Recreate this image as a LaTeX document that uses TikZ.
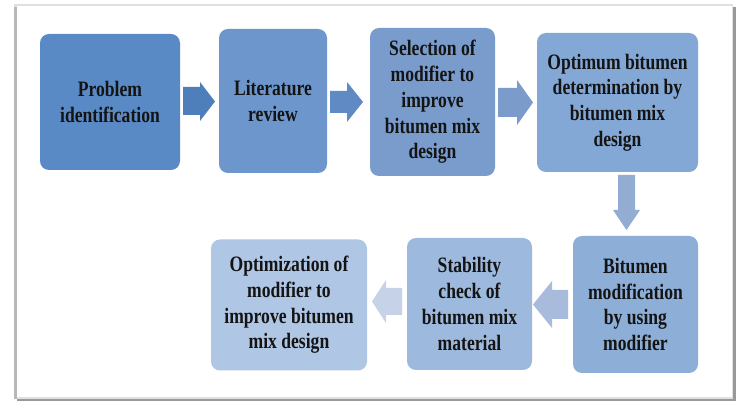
\documentclass[tikz,border=0pt]{standalone}
\usepackage{fontspec}
\setmainfont{Liberation Serif}[FakeStretch=0.8]
\definecolor{c1}{HTML}{5A8AC6}
\definecolor{c2}{HTML}{6D97CC}
\definecolor{c3}{HTML}{7A9CCD}
\definecolor{c4}{HTML}{84A8D5}
\definecolor{c5}{HTML}{8DAED7}
\definecolor{c6}{HTML}{9DB9DD}
\definecolor{c7}{HTML}{AFC6E4}
\definecolor{a1}{HTML}{4F7FBA}
\definecolor{a2}{HTML}{5F8AC4}
\definecolor{a3}{HTML}{7B9BCB}
\definecolor{a4}{HTML}{93ACD2}
\definecolor{a5}{HTML}{A9BBDC}
\definecolor{a6}{HTML}{C5D2E8}
\definecolor{txt}{HTML}{141414}
\begin{document}
\begin{tikzpicture}[x=1pt,y=-1pt,
  stepbox/.style={rounded corners=9pt, align=center, inner sep=0pt,
    font=\fontsize{22}{25.7}\selectfont\bfseries, text=txt}]
\useasboundingbox (0,0) rectangle (740,403);
% frame with shadow
\fill[black!40] (17,7) rectangle (736,401);
\fill[black!12] (14,4) rectangle (733,399);
\fill[black!28] (14,7) rectangle (16.5,399);
\fill[white] (16.5,6) rectangle (731.5,397.5);
% boxes
\node[stepbox, fill=c1, minimum width=140pt, minimum height=136pt] (p1) at (110,102) {Problem\\identification};
\node[stepbox, fill=c2, minimum width=108pt, minimum height=144pt] (p2) at (273,101) {Literature\\review};
\node[stepbox, fill=c3, minimum width=125pt, minimum height=148pt] (p3) at (432.5,102) {Selection of\\modifier to\\improve\\bitumen mix\\design};
\node[stepbox, fill=c4, minimum width=161pt, minimum height=139pt] (p4) at (617.5,102.5) {Optimum bitumen\\determination by\\bitumen mix\\design};
\node[stepbox, fill=c5, minimum width=125pt, minimum height=137pt] (p5) at (635.5,304.5) {Bitumen\\modification\\by using\\modifier};
\node[stepbox, fill=c6, minimum width=125pt, minimum height=132pt] (p6) at (469.5,304) {Stability\\check of\\bitumen mix\\material};
\node[stepbox, fill=c7, minimum width=156pt, minimum height=131pt] (p7) at (289,305) {Optimization of\\modifier to\\improve bitumen\\mix design};
% block arrows
\fill[a1] (183,87) -- (200,87) -- (200,82) -- (215,101.5) -- (200,121) -- (200,115) -- (183,115) -- cycle;
\fill[a2] (330,91) -- (347,91) -- (347,82) -- (363,102) -- (347,122) -- (347,113) -- (330,113) -- cycle;
\fill[a3] (498,88) -- (517,88) -- (517,80) -- (533,102.5) -- (517,125) -- (517,117) -- (498,117) -- cycle;
\fill[a4] (618,175) -- (635,175) -- (635,210) -- (640,210) -- (626.5,230) -- (613,210) -- (618,210) -- cycle;
\fill[a5] (568,290) -- (552,290) -- (552,281) -- (533,304.5) -- (552,328) -- (552,319) -- (568,319) -- cycle;
\fill[a6] (402,288) -- (386,288) -- (386,280) -- (372,301.5) -- (386,323) -- (386,315) -- (402,315) -- cycle;
\end{tikzpicture}
\end{document}
